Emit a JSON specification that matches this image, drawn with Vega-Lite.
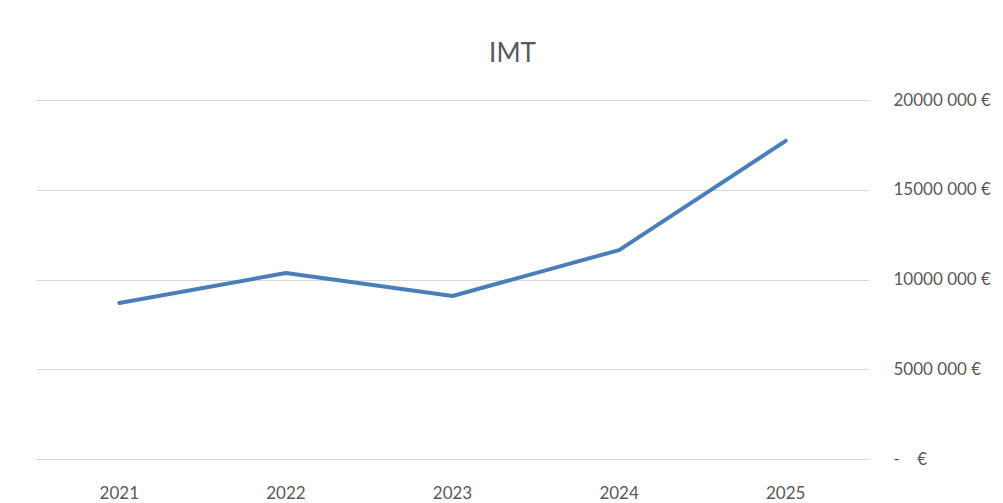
{
  "$schema": "https://vega.github.io/schema/vega-lite/v6.json",
  "width": 833,
  "height": 359,
  "autosize": {"type": "none"},
  "padding": {"left": 36, "top": 100, "right": 134, "bottom": 44},
  "background": "white",
  "title": {
    "text": "IMT",
    "font": "Lato",
    "fontSize": 26,
    "fontWeight": "normal",
    "color": "#595959",
    "anchor": "middle",
    "baseline": "alphabetic",
    "offset": 38,
    "dx": 60,
    "dy": 35
  },
  "data": {
    "values": [
      {"year": "2021", "value": 8690000},
      {"year": "2022", "value": 10360000},
      {"year": "2023", "value": 9080000},
      {"year": "2024", "value": 11640000},
      {"year": "2025", "value": 17720000}
    ]
  },
  "mark": {"type": "line", "color": "#4A7EBB", "strokeWidth": 4, "strokeCap": "round", "strokeJoin": "round"},
  "encoding": {
    "x": {
      "field": "year",
      "type": "ordinal",
      "scale": {"type": "band", "paddingInner": 0, "paddingOuter": 0},
      "axis": {
        "title": null,
        "labelAngle": 0,
        "domain": false,
        "ticks": false,
        "grid": false,
        "labelFont": "Lato",
        "labelFontSize": 17,
        "labelColor": "#595959",
        "labelBaseline": "alphabetic",
        "labelPadding": 39
      }
    },
    "y": {
      "field": "value",
      "type": "quantitative",
      "scale": {"domain": [0, 20000000], "nice": false},
      "axis": {
        "orient": "right",
        "title": null,
        "values": [0, 5000000, 10000000, 15000000, 20000000],
        "labelExpr": "datum.value == 0 ? '-\u00a0\u00a0\u00a0\u00a0€' : (floor(datum.value / 1000) + ' 000 €')",
        "domain": false,
        "ticks": false,
        "grid": true,
        "gridColor": "#D9D9D9",
        "gridWidth": 1,
        "labelFont": "Lato",
        "labelFontSize": 17,
        "labelColor": "#595959",
        "labelAlign": "left",
        "labelBaseline": "middle",
        "labelPadding": 24
      }
    }
  },
  "config": {"view": {"stroke": null}}
}
